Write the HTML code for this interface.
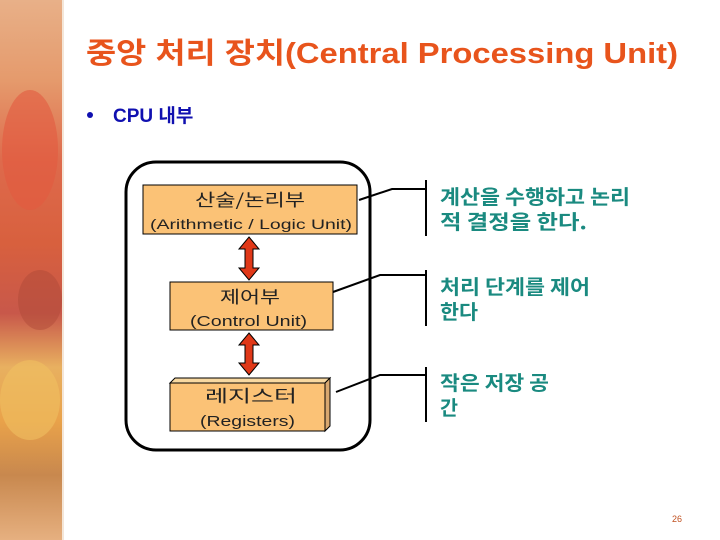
<!DOCTYPE html>
<html><head><meta charset="utf-8"><style>
html,body{margin:0;padding:0;width:720px;height:540px;overflow:hidden;background:#fff}
svg{display:block}
</style></head><body>
<svg width="720" height="540" xmlns="http://www.w3.org/2000/svg">
<defs>
<linearGradient id="lf" x1="0" y1="0" x2="0" y2="1">
<stop offset="0" stop-color="#e8b088"/>
<stop offset="0.15" stop-color="#e59a6c"/>
<stop offset="0.3" stop-color="#de6a4c"/>
<stop offset="0.45" stop-color="#d8603e"/>
<stop offset="0.58" stop-color="#c8584a"/>
<stop offset="0.68" stop-color="#e8b060"/>
<stop offset="0.78" stop-color="#e9a24a"/>
<stop offset="0.88" stop-color="#c8884e"/>
<stop offset="1" stop-color="#e6b080"/>
</linearGradient>
</defs>
<rect x="0" y="0" width="62" height="540" fill="url(#lf)"/>
<ellipse cx="30" cy="150" rx="28" ry="60" fill="#e25a40" opacity="0.6"/>
<ellipse cx="40" cy="300" rx="22" ry="30" fill="#b04a38" opacity="0.5"/>
<ellipse cx="30" cy="400" rx="30" ry="40" fill="#f0c060" opacity="0.6"/>
<rect x="62" y="0" width="2" height="540" fill="#f4e6d8"/>

<text x="86" y="63" font-family="Liberation Sans, 'Noto Sans CJK KR', sans-serif" font-weight="bold" font-size="29" fill="#e8541c" textLength="592" lengthAdjust="spacingAndGlyphs">중앙 처리 장치(Central Processing Unit)</text>
<circle cx="90" cy="115" r="3" fill="#1010b0"/>
<text x="113" y="122" font-family="Liberation Sans, 'Noto Sans CJK KR', sans-serif" font-weight="bold" font-size="19" fill="#1010b0">CPU 내부</text>

<rect x="126" y="162" width="244" height="288" rx="30" fill="#fff" stroke="#000" stroke-width="3"/>

<rect x="143" y="185" width="214" height="49" fill="#fbc276" stroke="#000" stroke-width="1"/>
<text x="195" y="206" font-family="'Noto Sans CJK KR', sans-serif" font-size="17" fill="#222" textLength="110" lengthAdjust="spacingAndGlyphs">산술/논리부</text>
<text x="150" y="229" font-family="Liberation Sans, sans-serif" font-size="14" fill="#222" textLength="202" lengthAdjust="spacingAndGlyphs">(Arithmetic / Logic Unit)</text>

<rect x="170" y="282" width="163" height="48" fill="#fbc276" stroke="#000" stroke-width="1"/>
<text x="220" y="303" font-family="'Noto Sans CJK KR', sans-serif" font-size="17" fill="#222" textLength="60" lengthAdjust="spacingAndGlyphs">제어부</text>
<text x="190" y="326" font-family="Liberation Sans, sans-serif" font-size="15" fill="#222" textLength="117" lengthAdjust="spacingAndGlyphs">(Control Unit)</text>

<polygon points="170,383 175,378 330,378 325,383" fill="#f8d8a0" stroke="#000" stroke-width="1"/>
<polygon points="325,383 330,378 330,426 325,431" fill="#d8a870" stroke="#000" stroke-width="1"/>
<rect x="170" y="383" width="155" height="48" fill="#fbc276" stroke="#000" stroke-width="1"/>
<text x="205" y="402" font-family="'Noto Sans CJK KR', sans-serif" font-size="17" fill="#222" textLength="92" lengthAdjust="spacingAndGlyphs">레지스터</text>
<text x="200" y="426" font-family="Liberation Sans, sans-serif" font-size="15" fill="#222" textLength="95" lengthAdjust="spacingAndGlyphs">(Registers)</text>

<polygon points="249,237 259,249 253,249 253,268 259,268 249,280 239,268 245,268 245,249 239,249" fill="#e03818" stroke="#000" stroke-width="1"/>
<polygon points="249,333 259,345 253,345 253,363 259,363 249,375 239,363 245,363 245,345 239,345" fill="#e03818" stroke="#000" stroke-width="1"/>

<g stroke="#000" stroke-width="2" fill="none">
<polyline points="359,200 392,189 426,189"/>
<line x1="426" y1="180" x2="426" y2="236"/>
<polyline points="333,292 380,275 426,275"/>
<line x1="426" y1="270" x2="426" y2="326"/>
<polyline points="336,392 380,375 426,375"/>
<line x1="426" y1="367" x2="426" y2="422"/>
</g>

<g font-family="'Noto Sans CJK KR', sans-serif" font-size="20" font-weight="bold" fill="#1a8a80">
<text x="440" y="204" textLength="190" lengthAdjust="spacingAndGlyphs">계산을 수행하고 논리</text>
<text x="440" y="229" textLength="147" lengthAdjust="spacingAndGlyphs">적 결정을 한다.</text>
<text x="440" y="294" textLength="150" lengthAdjust="spacingAndGlyphs">처리 단계를 제어</text>
<text x="440" y="319" textLength="38" lengthAdjust="spacingAndGlyphs">한다</text>
<text x="440" y="390" textLength="109" lengthAdjust="spacingAndGlyphs">작은 저장 공</text>
<text x="440" y="415" textLength="18" lengthAdjust="spacingAndGlyphs">간</text>
</g>
<text x="677" y="522" text-anchor="middle" font-family="Liberation Sans, sans-serif" font-size="9" fill="#c05020">26</text>
</svg>
</body></html>
